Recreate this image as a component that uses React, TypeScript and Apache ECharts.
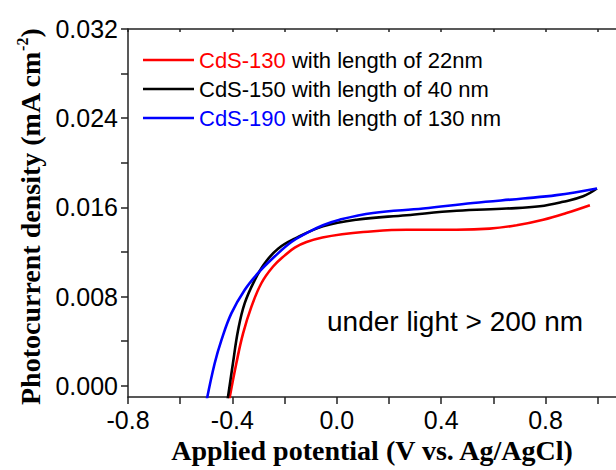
import React, { useEffect, useRef } from 'react';
import * as echarts from 'echarts';

// ---- data ----
const seriesNames = ['CdS-130', 'CdS-150', 'CdS-190'];
const legendSuffix = [' with length of 22nm', ' with length of 40 nm', ' with length of 130 nm'];
const seriesColors = ['#ff0000', '#000000', '#0000ff'];

const cds130Potential = [-0.414, -0.385, -0.359, -0.327, -0.289, -0.244, -0.199, -0.161, -0.116, -0.055, 0.020, 0.101, 0.267, 0.459, 0.586, 0.689, 0.791, 0.880, 0.970];
const cds130Current = [-0.0015, 0.0020, 0.0047, 0.0071, 0.0092, 0.0107, 0.0117, 0.0124, 0.0129, 0.0133, 0.0136, 0.0138, 0.0140, 0.0140, 0.0141, 0.0144, 0.0149, 0.0155, 0.0162];

const cds150Potential = [-0.420, -0.398, -0.378, -0.353, -0.314, -0.276, -0.225, -0.161, -0.053, 0.075, 0.267, 0.459, 0.650, 0.778, 0.867, 0.944, 0.997];
const cds150Current = [-0.0015, 0.0020, 0.0050, 0.0074, 0.0095, 0.0110, 0.0123, 0.0132, 0.0143, 0.0149, 0.0153, 0.0157, 0.0159, 0.0161, 0.0165, 0.0170, 0.0177];

const cds190Potential = [-0.4995, -0.468, -0.442, -0.404, -0.353, -0.302, -0.238, -0.174, -0.116, -0.053, 0.011, 0.139, 0.331, 0.522, 0.714, 0.842, 0.997];
const cds190Current = [-0.0014, 0.0020, 0.0041, 0.0065, 0.0086, 0.0101, 0.0116, 0.0129, 0.0137, 0.0144, 0.0149, 0.0155, 0.0159, 0.0164, 0.0168, 0.0171, 0.0177];

const xTickValues = [-0.8, -0.6, -0.4, -0.2, 0, 0.2, 0.4, 0.6, 0.8, 1.0];
const xLabelValues = [-0.8, -0.4, 0, 0.4, 0.8];
const yTickValues = [0, 0.004, 0.008, 0.012, 0.016, 0.02, 0.024, 0.028, 0.032];
const yLabelValues = [0, 0.008, 0.016, 0.024, 0.032];

const xTitle = 'Applied potential (V vs. Ag/AgCl)';
const yTitleMain = 'Photocurrent density (mA cm';
const yTitleSup = '-2';
const annotationText = 'under light > 200 nm';

const SANS = '"Liberation Sans", Arial, sans-serif';
const SERIF = '"Liberation Serif", "Times New Roman", serif';

function pairs(xs: number[], ys: number[]) {
  return xs.map((x, i) => [x, ys[i]]);
}

export default function App() {
  const ref = useRef<HTMLDivElement>(null);
  useEffect(() => {
    if (!ref.current) return;
    const chart = echarts.init(ref.current, undefined, { renderer: 'svg' });
    const allData = [
      pairs(cds130Potential, cds130Current),
      pairs(cds150Potential, cds150Current),
      pairs(cds190Potential, cds190Current),
    ];
    const option: any = {
      animation: false,
      backgroundColor: '#ffffff',
      grid: { left: 128, top: 29, right: 0, bottom: 73 },
      legend: {
        show: true,
        orient: 'vertical',
        left: 143,
        top: 49,
        padding: 0,
        icon: 'rect',
        itemWidth: 51,
        itemHeight: 2.5,
        itemGap: 7,
        selectedMode: false,
        data: seriesNames,
        formatter: (name: string) => {
          const i = seriesNames.indexOf(name);
          return `{c${i}|${name}}{k|${legendSuffix[i]}}`;
        },
        textStyle: {
          fontFamily: SANS,
          fontSize: 22,
          color: '#000',
          rich: {
            c0: { color: seriesColors[0], fontFamily: SANS, fontSize: 22 },
            c1: { color: seriesColors[1], fontFamily: SANS, fontSize: 22 },
            c2: { color: seriesColors[2], fontFamily: SANS, fontSize: 22 },
            k: { color: '#000', fontFamily: SANS, fontSize: 22 },
          },
        },
      },
      xAxis: [
        {
          type: 'value',
          position: 'bottom',
          min: -0.8,
          max: 1.07,
          name: xTitle,
          nameLocation: 'middle',
          nameGap: 36,
          nameTextStyle: { fontFamily: SERIF, fontWeight: 'bold', fontSize: 28, color: '#000' },
          axisLine: { show: true, onZero: false, lineStyle: { color: '#222', width: 1.5 } },
          axisTick: { show: true, inside: false, length: 7, customValues: xTickValues, lineStyle: { color: '#222', width: 1.5 } },
          axisLabel: {
            show: true,
            margin: 10,
            customValues: xLabelValues,
            formatter: (v: number) => v.toFixed(1),
            fontFamily: SANS,
            fontSize: 25,
            color: '#000',
          },
          splitLine: { show: false },
        },
        {
          type: 'value',
          position: 'top',
          min: -0.8,
          max: 1.07,
          axisLine: { show: true, onZero: false, lineStyle: { color: '#222', width: 1.5 } },
          axisTick: { show: true, inside: true, length: 3, customValues: xTickValues, lineStyle: { color: '#222', width: 1.5 } },
          axisLabel: { show: false },
          splitLine: { show: false },
        },
      ],
      yAxis: {
        type: 'value',
        min: -0.001,
        max: 0.032,
        name: `{t|${yTitleMain}}{s|${yTitleSup}}{t|)}`,
        nameLocation: 'middle',
        nameRotate: 90,
        nameGap: 79,
        nameTextStyle: {
          fontFamily: SERIF,
          fontWeight: 'bold',
          fontSize: 28,
          color: '#000',
          padding: [0, 8, 0, 0],
          rich: {
            t: { fontFamily: SERIF, fontWeight: 'bold', fontSize: 28, lineHeight: 32, color: '#000' },
            s: { fontFamily: SERIF, fontWeight: 'bold', fontSize: 16, lineHeight: 16, verticalAlign: 'top', color: '#000' },
          },
        },
        axisLine: { show: true, onZero: false, lineStyle: { color: '#222', width: 1.5 } },
        axisTick: { show: true, inside: false, length: 7, customValues: yTickValues, lineStyle: { color: '#222', width: 1.5 } },
        axisLabel: {
          show: true,
          margin: 10,
          customValues: yLabelValues,
          formatter: (v: number) => v.toFixed(3),
          fontFamily: SANS,
          fontSize: 25,
          color: '#000',
        },
        splitLine: { show: false },
      },
      graphic: [
        {
          type: 'text',
          x: 327,
          y: 321,
          style: {
            text: annotationText,
            font: `28px ${SANS}`,
            fill: '#000',
            align: 'left',
            verticalAlign: 'middle',
            textAlign: 'left',
            textVerticalAlign: 'middle',
          },
        },
      ],
      series: seriesNames.map((name, i) => ({
        name,
        type: 'line',
        xAxisIndex: 0,
        data: allData[i],
        showSymbol: false,
        symbol: 'none',
        smooth: 0.4,
        clip: true,
        lineStyle: { color: seriesColors[i], width: 2.6 },
        itemStyle: { color: seriesColors[i] },
        z: 2 + i,
      })),
    };
    chart.setOption(option);
    return () => chart.dispose();
  }, []);
  return <div ref={ref} style={{ position: 'fixed', left: 0, top: 0, width: 616, height: 470 }} />;
}
